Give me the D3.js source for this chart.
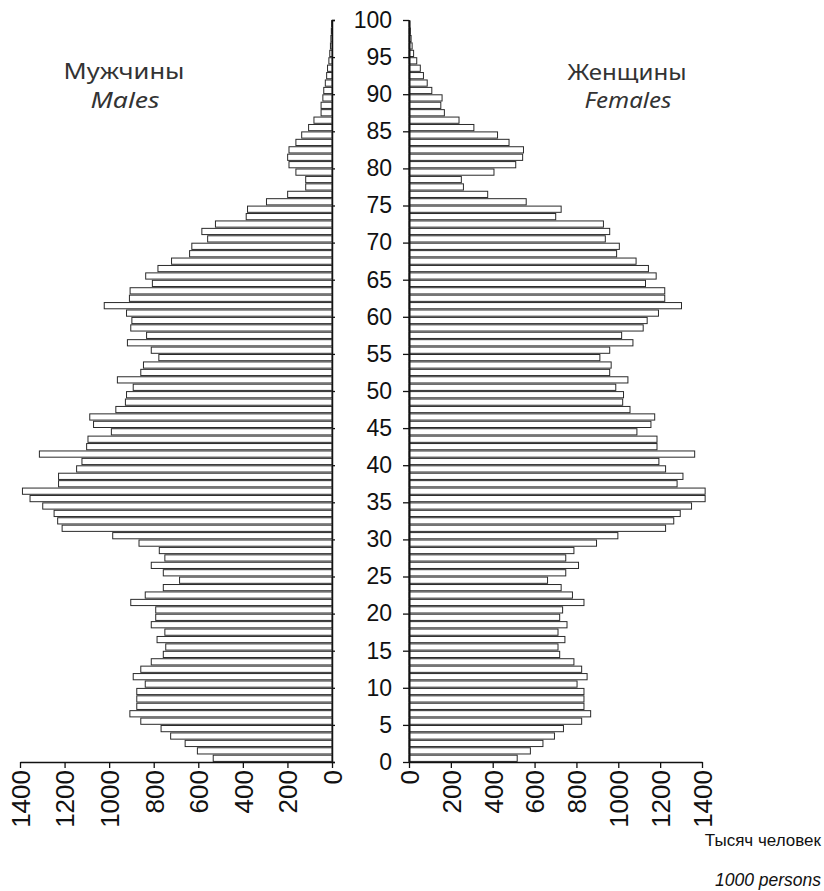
<!DOCTYPE html>
<html>
<head>
<meta charset="utf-8">
<script src="https://cdn.jsdelivr.net/npm/d3@7"></script>
<style>
  body { margin: 0; background: #fff; }
  #pyramid { width: 824px; height: 891px; }
</style>
</head>
<body>
<div id="pyramid"></div>
<script>
// ages 0..99, thousands of persons
var ages = d3.range(0, 100);

var males = [
    533, 604, 659, 724, 767, 858, 907, 876, 876, 876,
    838, 892, 858, 811, 757, 746, 785, 750, 811, 791,
    791, 903, 838, 757, 684, 757, 811, 750, 775, 866,
    984, 1211, 1231, 1247, 1298, 1355, 1389, 1227, 1227, 1146,
    1122, 1313, 1101, 1095, 990, 1070, 1087, 970, 927, 922,
    892, 963, 858, 846, 777, 811, 918, 832, 903, 898,
    922, 1022, 909, 906, 806, 836, 781, 720, 639, 629,
    558, 584, 523, 385, 379, 294, 199, 118, 118, 162,
    193, 199, 193, 162, 136, 105, 81, 49, 49, 41,
    37, 30, 24, 20, 14, 10, 7, 5, 3, 2
];

var females = [
    517, 580, 640, 695, 738, 825, 868, 836, 836, 836,
    803, 851, 825, 788, 720, 712, 745, 712, 755, 720,
    734, 836, 781, 727, 662, 749, 810, 749, 788, 896,
    998, 1226, 1265, 1296, 1350, 1415, 1415, 1281, 1309, 1226,
    1194, 1365, 1185, 1185, 1089, 1156, 1174, 1056, 1021, 1025,
    988, 1046, 959, 966, 912, 959, 1070, 1016, 1119, 1138,
    1192, 1302, 1222, 1222, 1130, 1181, 1144, 1085, 992, 1005,
    938, 959, 929, 701, 727, 560, 376, 260, 250, 406,
    510, 543, 547, 478, 423, 310, 239, 169, 152, 158,
    109, 87, 69, 54, 37, 22, 15, 10, 6, 3
];

var ageTicks = d3.range(0, 101, 5);
var valueTicks = [0, 200, 400, 600, 800, 1000, 1200, 1400];

var width = 824,
    height = 891;

var svg = d3.select("#pyramid").append("svg")
    .attr("width", width)
    .attr("height", height);

var y = d3.scaleLinear().domain([0, 100]).range([762, 20]);
var xMale = d3.scaleLinear().domain([0, 1400]).range([332, 20]);
var xFemale = d3.scaleLinear().domain([0, 1400]).range([409, 702]);

var bandH = y(0) - y(1);

// bars
var gMale = svg.append("g").attr("class", "males");
gMale.selectAll("rect")
    .data(ages)
    .enter().append("rect")
    .attr("x", function (a) { return xMale(males[a]); })
    .attr("y", function (a) { return y(a + 1) + 0.6; })
    .attr("width", function (a) { return xMale(0) - xMale(males[a]); })
    .attr("height", bandH - 1.2)
    .attr("fill", "#fff")
    .attr("stroke", "#2a2a2a")
    .attr("stroke-width", 1);

var gFemale = svg.append("g").attr("class", "females");
gFemale.selectAll("rect")
    .data(ages)
    .enter().append("rect")
    .attr("x", xFemale(0))
    .attr("y", function (a) { return y(a + 1) + 0.6; })
    .attr("width", function (a) { return xFemale(females[a]) - xFemale(0); })
    .attr("height", bandH - 1.2)
    .attr("fill", "#fff")
    .attr("stroke", "#2a2a2a")
    .attr("stroke-width", 1);

// age axes
var maleAgeAxis = svg.append("g")
    .attr("transform", "translate(" + xMale(0) + ",0)")
    .call(d3.axisRight(y).tickValues(ageTicks).tickSize(3).tickFormat(""));

var femaleAgeAxis = svg.append("g")
    .attr("transform", "translate(" + xFemale(0) + ",0)")
    .call(d3.axisLeft(y).tickValues(ageTicks).tickSize(6).tickPadding(11).tickSizeOuter(0));

femaleAgeAxis.selectAll("text")
    .style("font-family", "'Liberation Sans', Arial, sans-serif")
    .style("font-size", "23px")
    .attr("fill", "#111");

// value axes
var maleValAxis = svg.append("g")
    .attr("transform", "translate(0," + y(0) + ")")
    .call(d3.axisBottom(xMale).tickValues(valueTicks).tickSize(6).tickSizeOuter(0).tickFormat(d3.format("d")));

var femaleValAxis = svg.append("g")
    .attr("transform", "translate(0," + y(0) + ")")
    .call(d3.axisBottom(xFemale).tickValues(valueTicks).tickSize(6).tickSizeOuter(0).tickFormat(d3.format("d")));

[maleValAxis, femaleValAxis].forEach(function (ax) {
    ax.selectAll("text")
        .attr("transform", "rotate(-90)")
        .attr("x", -8)
        .attr("y", 0)
        .attr("dy", "0.36em")
        .style("text-anchor", "end")
        .style("font-family", "'Liberation Sans', Arial, sans-serif")
        .style("font-size", "26px")
        .attr("fill", "#111");
});

svg.selectAll(".domain").attr("stroke", "#111").attr("stroke-width", 1.5);
femaleAgeAxis.select(".domain").attr("stroke-width", 2);
svg.selectAll(".tick line").attr("stroke", "#111").attr("stroke-width", 1.3);

// titles (widths)
var titleFont = "'Noto Sans', 'Open Sans', sans-serif";
var titles = [
    { t: "Мужчины", x: 124, y: 79, w: 121, it: false },
    { t: "Males", x: 125, y: 108, w: 69, it: true },
    { t: "Женщины", x: 627, y: 80, w: 119, it: false },
    { t: "Females", x: 628, y: 108, w: 87, it: true }
];
svg.selectAll(".title")
    .data(titles)
    .enter().append("text")
    .attr("class", "title")
    .attr("x", function (d) { return d.x; })
    .attr("y", function (d) { return d.y; })
    .attr("text-anchor", "middle")
    .attr("textLength", function (d) { return d.w; })
    .attr("lengthAdjust", "spacingAndGlyphs")
    .style("font-family", titleFont)
    .style("font-size", "21px")
    .style("font-style", function (d) { return d.it ? "italic" : "normal"; })
    .attr("fill", "#333")
    .text(function (d) { return d.t; });

// units
var unitFont = "'Liberation Sans Narrow', 'Liberation Sans', Arial, sans-serif";
svg.append("text").attr("x", 821).attr("y", 846)
    .attr("text-anchor", "end")
    .style("font-family", unitFont).style("font-size", "17px")
    .attr("fill", "#111").text("Тысяч человек");
svg.append("text").attr("x", 821).attr("y", 886)
    .attr("text-anchor", "end")
    .style("font-family", unitFont).style("font-size", "17.5px").style("font-style", "italic")
    .attr("fill", "#111").text("1000 persons");
</script>
</body>
</html>
